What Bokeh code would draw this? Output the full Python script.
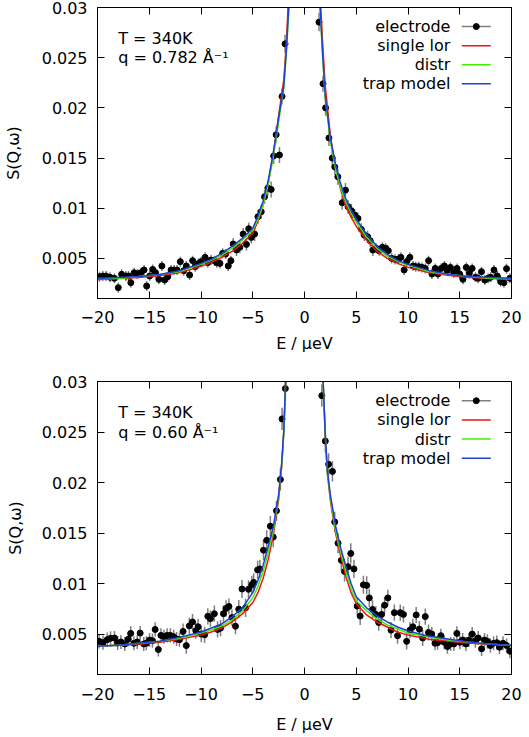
import numpy as np
from bokeh.plotting import figure
from bokeh.models import Range1d, LinearAxis, FixedTicker, Label, ColumnDataSource, CustomJSTickFormatter
from bokeh.layouts import column
from bokeh.embed import file_html
from bokeh.resources import INLINE

FONT = "DejaVu Sans"

# ---------------- data: top panel (q = 0.782 1/A) ----------------
E_top = [-19.81, -19.49, -19.17, -18.79, -18.37, -17.99, -17.67, -17.26, -17.00, -16.78,
         -16.46, -16.14, -15.82, -15.50, -15.25, -14.96, -14.67, -14.39, -14.07, -13.78,
         -13.52, -13.21, -12.89, -12.60, -12.31, -12.00, -11.67, -11.42, -11.10, -10.81,
         -10.56, -10.24, -9.98, -9.60, -9.35, -9.03, -8.71, -8.48, -8.17, -7.91,
         -7.62, -7.37, -7.11, -6.89, -6.57, -6.25, -5.93, -5.61, -5.39, -5.14,
         -4.82, -4.50, -4.18, -3.86, -3.54, -3.22, -2.98, -2.74, -2.42, -2.17, -1.88,
         1.40, 1.79, 2.04, 2.36, 2.68, 2.93, 3.22, 3.64, 3.96, 4.21,
         4.53, 4.85, 5.17, 5.49, 5.77, 6.09, 6.35, 6.60, 6.92, 7.21,
         7.53, 7.85, 8.10, 8.42, 8.74, 9.06, 9.31, 9.63, 9.86, 10.18,
         10.49, 10.75, 11.04, 11.36, 11.67, 11.99, 12.31, 12.63, 12.89, 13.21,
         13.52, 13.78, 14.10, 14.42, 14.74, 14.99, 15.31, 15.63, 15.92, 16.20,
         16.52, 16.78, 17.10, 17.42, 17.74, 17.99, 18.31, 18.63, 18.95, 19.27,
         19.52, 19.84]
S_top = [0.00317, 0.00324, 0.00324, 0.00311, 0.00301, 0.00208, 0.00341, 0.00324, 0.00324, 0.00258,
         0.00357, 0.00344, 0.00357, 0.00384, 0.00224, 0.00324, 0.00390, 0.00357, 0.00291, 0.00424,
         0.00284, 0.00317, 0.00384, 0.00384, 0.00384, 0.00467, 0.00377, 0.00424, 0.00334, 0.00477,
         0.00417, 0.00450, 0.00467, 0.00510, 0.00457, 0.00483, 0.00477, 0.00457, 0.00450, 0.00550,
         0.00543, 0.00424, 0.00477, 0.00643, 0.00583, 0.00610, 0.00742, 0.00639, 0.00795, 0.00709,
         0.00742, 0.00915, 0.00965, 0.01114, 0.01200, 0.01187, 0.01520, 0.01732, 0.01530, 0.02114, 0.02638,
         0.02854, 0.02240, 0.02000, 0.01700, 0.01500, 0.01410, 0.01313, 0.01054, 0.01180, 0.01015,
         0.00975, 0.00932, 0.00898, 0.00789, 0.00732, 0.00716, 0.00676, 0.00583, 0.00600, 0.00576,
         0.00610, 0.00600, 0.00576, 0.00500, 0.00490, 0.00490, 0.00510, 0.00384, 0.00467, 0.00510,
         0.00424, 0.00417, 0.00417, 0.00410, 0.00400, 0.00477, 0.00344, 0.00400, 0.00344, 0.00400,
         0.00424, 0.00377, 0.00410, 0.00357, 0.00400, 0.00344, 0.00291, 0.00410, 0.00350, 0.00400,
         0.00311, 0.00301, 0.00367, 0.00284, 0.00301, 0.00311, 0.00384, 0.00324, 0.00268, 0.00258,
         0.00397, 0.00301]
err_top = [0.0005, 0.0005, 0.0005, 0.0005, 0.0005, 0.0005, 0.0005, 0.0005, 0.0005, 0.0005,
           0.0005, 0.0005, 0.0005, 0.0005, 0.0005, 0.0005, 0.0005, 0.0005, 0.0005, 0.0005,
           0.0005, 0.0005, 0.0005, 0.0005, 0.0005, 0.0005, 0.0005, 0.0005, 0.0005, 0.0005,
           0.0005, 0.0005, 0.0005, 0.0005, 0.0005, 0.0005, 0.0005, 0.0005, 0.0005, 0.0005,
           0.0005, 0.0005, 0.0005, 0.0006, 0.0006, 0.0006, 0.0006, 0.0006, 0.0006, 0.0006,
           0.0007, 0.0007, 0.0007, 0.0007, 0.0007, 0.0008, 0.0008, 0.0008, 0.0008, 0.0008, 0.0009,
           0.0009, 0.0008, 0.0008, 0.0008, 0.0008, 0.0008, 0.0008, 0.0007, 0.0007, 0.0007,
           0.0007, 0.0006, 0.0006, 0.0006, 0.0006, 0.0006, 0.0006, 0.0006, 0.0005, 0.0005,
           0.0005, 0.0005, 0.0005, 0.0005, 0.0005, 0.0005, 0.0005, 0.0005, 0.0005, 0.0005,
           0.0005, 0.0005, 0.0005, 0.0005, 0.0005, 0.0005, 0.0005, 0.0005, 0.0005, 0.0005,
           0.0005, 0.0005, 0.0005, 0.0005, 0.0005, 0.0005, 0.0005, 0.0005, 0.0005, 0.0005,
           0.0005, 0.0005, 0.0005, 0.0005, 0.0005, 0.0005, 0.0005, 0.0005, 0.0005, 0.0005,
           0.0005, 0.0005]

Efit_top = [-20, -18, -16, -14, -12, -10, -9, -8, -7, -6, -5, -4.5, -4, -3.5, -3, -2.5, -2, -1.75, -1.5, -1.3,
            1.3, 1.5, 1.75, 2, 2.5, 3, 3.5, 4, 4.5, 5, 6, 7, 8, 9, 10, 12, 14, 16, 18, 20]
lor_top = [0.0029, 0.0030, 0.0031, 0.0033, 0.0036, 0.0042, 0.0046, 0.0051, 0.0057, 0.0065,
           0.0075, 0.0087, 0.0103, 0.0125, 0.0155, 0.0192, 0.0228, 0.0265, 0.0320, 0.0370,
           0.0370, 0.0315, 0.0265, 0.0222, 0.0172, 0.0140, 0.0118, 0.0102, 0.0091, 0.0082,
           0.0068, 0.0057, 0.0050, 0.0045, 0.0041, 0.0036, 0.0033, 0.0031, 0.0030, 0.0029]
distr_top = [0.0030, 0.0030, 0.0032, 0.0034, 0.0037, 0.0044, 0.0048, 0.0053, 0.0060, 0.0068,
             0.0078, 0.0089, 0.0103, 0.0124, 0.0152, 0.0186, 0.0220, 0.0255, 0.0300, 0.0350,
             0.0350, 0.0300, 0.0252, 0.0210, 0.0166, 0.0139, 0.0120, 0.0106, 0.0095, 0.0086,
             0.0071, 0.0060, 0.0052, 0.0047, 0.0043, 0.0037, 0.0034, 0.0032, 0.0030, 0.0030]
trap_top = [0.0030, 0.0031, 0.0032, 0.0034, 0.0038, 0.0045, 0.0049, 0.0055, 0.0062, 0.0070,
            0.0080, 0.0092, 0.0107, 0.0128, 0.0156, 0.0190, 0.0222, 0.0258, 0.0305, 0.0355,
            0.0360, 0.0302, 0.0255, 0.0212, 0.0170, 0.0143, 0.0124, 0.0109, 0.0098, 0.0089,
            0.0074, 0.0062, 0.0054, 0.0048, 0.0044, 0.0038, 0.0034, 0.0032, 0.0031, 0.0030]

# ---------------- data: bottom panel (q = 0.60 1/A) ----------------
E_bot = [-19.84, -19.47, -19.06, -18.74, -18.36, -18.05, -17.74, -17.36, -17.04, -16.79,
         -16.48, -16.16, -15.88, -15.53, -15.28, -14.97, -14.69, -14.43, -14.12, -13.87,
         -13.58, -13.27, -12.96, -12.64, -12.36, -12.08, -11.73, -11.42, -11.13, -10.82,
         -10.50, -10.28, -9.97, -9.65, -9.34, -9.09, -8.71, -8.40, -8.11, -7.83,
         -7.58, -7.30, -7.01, -6.67, -6.35, -6.04, -5.69, -5.41, -5.09, -4.91,
         -4.53, -4.31, -3.96, -3.65, -3.30, -3.02, -2.71, -2.33, -2.17, -1.85,
         1.67, 2.01, 2.33, 2.70, 2.92, 3.24, 3.56, 3.87, 4.21, 4.47,
         4.78, 5.09, 5.38, 5.69, 6.01, 6.26, 6.57, 6.89, 7.17, 7.45,
         7.74, 8.05, 8.36, 8.68, 8.99, 9.25, 9.56, 9.87, 10.19, 10.47,
         10.79, 11.10, 11.42, 11.67, 11.98, 12.30, 12.61, 12.86, 13.18, 13.49,
         13.81, 14.12, 14.43, 14.72, 15.00, 15.28, 15.60, 15.88, 16.20, 16.51,
         16.79, 17.11, 17.39, 17.67, 17.96, 18.27, 18.58, 18.84, 19.18, 19.53,
         19.84]
S_bot = [0.00428, 0.00415, 0.00445, 0.00458, 0.00461, 0.00412, 0.00422, 0.00402, 0.00448, 0.00507,
         0.00409, 0.00422, 0.00510, 0.00402, 0.00409, 0.00441, 0.00435, 0.00546, 0.00347, 0.00487,
         0.00474, 0.00487, 0.00487, 0.00474, 0.00451, 0.00445, 0.00526, 0.00386, 0.00581, 0.00620,
         0.00533, 0.00572, 0.00500, 0.00493, 0.00676, 0.00653, 0.00702, 0.00546, 0.00559, 0.00702,
         0.00754, 0.00773, 0.00663, 0.00578, 0.00747, 0.00946, 0.00760, 0.00943, 0.00988, 0.01011,
         0.01135, 0.01145, 0.01330, 0.01428, 0.01568, 0.01460, 0.01720, 0.02030, 0.02630, 0.02930,
         0.02860, 0.02410, 0.02180, 0.02110, 0.01610, 0.01400, 0.01230, 0.01120, 0.01167, 0.01298,
         0.01145, 0.00777, 0.00679, 0.00988, 0.00982, 0.00858, 0.00744, 0.00695, 0.00614, 0.00695,
         0.00786, 0.00858, 0.00539, 0.00712, 0.00484, 0.00712, 0.00695, 0.00428, 0.00539, 0.00572,
         0.00689, 0.00549, 0.00461, 0.00673, 0.00516, 0.00500, 0.00409, 0.00415, 0.00484, 0.00419,
         0.00376, 0.00402, 0.00402, 0.00507, 0.00419, 0.00441, 0.00402, 0.00441, 0.00500, 0.00435,
         0.00461, 0.00354, 0.00441, 0.00428, 0.00386, 0.00409, 0.00415, 0.00370, 0.00409, 0.00386,
         0.00331]
err_bot = [0.0007, 0.0007, 0.0007, 0.0007, 0.0007, 0.0007, 0.0007, 0.0007, 0.0007, 0.0007,
           0.0007, 0.0007, 0.0007, 0.0007, 0.0007, 0.0007, 0.0007, 0.0007, 0.0007, 0.0007,
           0.0007, 0.0007, 0.0007, 0.0007, 0.0007, 0.0007, 0.0008, 0.0008, 0.0008, 0.0008,
           0.0008, 0.0008, 0.0008, 0.0008, 0.0008, 0.0008, 0.0008, 0.0008, 0.0008, 0.0008,
           0.0008, 0.0008, 0.0008, 0.0008, 0.0009, 0.0009, 0.0009, 0.0009, 0.0009, 0.0009,
           0.0009, 0.0009, 0.0010, 0.0010, 0.0010, 0.0010, 0.0010, 0.0011, 0.0011, 0.0011,
           0.0011, 0.0011, 0.0011, 0.0010, 0.0010, 0.0010, 0.0010, 0.0010, 0.0010, 0.0010,
           0.0009, 0.0009, 0.0009, 0.0009, 0.0009, 0.0009, 0.0009, 0.0008, 0.0008, 0.0008,
           0.0008, 0.0008, 0.0008, 0.0008, 0.0008, 0.0008, 0.0008, 0.0008, 0.0008, 0.0008,
           0.0008, 0.0008, 0.0008, 0.0008, 0.0008, 0.0007, 0.0007, 0.0007, 0.0007, 0.0007,
           0.0007, 0.0007, 0.0007, 0.0007, 0.0007, 0.0007, 0.0007, 0.0007, 0.0007, 0.0007,
           0.0007, 0.0007, 0.0007, 0.0007, 0.0007, 0.0007, 0.0007, 0.0007, 0.0007, 0.0007,
           0.0007]

Efit_bot = [-20, -18, -16, -14, -12, -10, -9, -8, -7, -6, -5, -4.5, -4, -3.5, -3, -2.5, -2.2, -2, -1.8, -1.6,
            1.6, 1.8, 2, 2.2, 2.5, 3, 3.5, 4, 4.5, 5, 6, 7, 8, 9, 10, 12, 14, 16, 18, 20]
lor_bot = [0.0038, 0.0039, 0.0040, 0.0042, 0.0045, 0.0049, 0.0052, 0.0056, 0.0062, 0.0070,
           0.0081, 0.0091, 0.0105, 0.0124, 0.0149, 0.0183, 0.0216, 0.0250, 0.0305, 0.0360,
           0.0360, 0.0300, 0.0248, 0.0210, 0.0182, 0.0150, 0.0127, 0.0107, 0.0091, 0.0080,
           0.0069, 0.0062, 0.0057, 0.0052, 0.0049, 0.0045, 0.0043, 0.0041, 0.0040, 0.0039]
distr_bot = [0.0038, 0.0039, 0.0041, 0.0043, 0.0046, 0.0051, 0.0054, 0.0058, 0.0064, 0.0073,
             0.0086, 0.0097, 0.0112, 0.0131, 0.0153, 0.0186, 0.0218, 0.0250, 0.0305, 0.0360,
             0.0360, 0.0300, 0.0249, 0.0211, 0.0185, 0.0153, 0.0131, 0.0112, 0.0095, 0.0083,
             0.0073, 0.0065, 0.0059, 0.0055, 0.0051, 0.0047, 0.0044, 0.0042, 0.0040, 0.0039]
trap_bot = [0.0038, 0.0039, 0.0041, 0.0043, 0.0047, 0.0052, 0.0056, 0.0060, 0.0067, 0.0076,
            0.0091, 0.0103, 0.0118, 0.0137, 0.0157, 0.0188, 0.0220, 0.0252, 0.0305, 0.0360,
            0.0360, 0.0300, 0.0250, 0.0213, 0.0188, 0.0157, 0.0135, 0.0117, 0.0100, 0.0087,
            0.0076, 0.0068, 0.0062, 0.0057, 0.0053, 0.0048, 0.0045, 0.0042, 0.0040, 0.0039]

x_ticks = [-20, -15, -10, -5, 0, 5, 10, 15, 20]
y_ticks = [0.005, 0.01, 0.015, 0.02, 0.025, 0.03]
y_tick_labels = ["0.005", "0.01", "0.015", "0.02", "0.025", "0.03"]
legend_labels = ["electrode", "single lor", "distr", "trap model"]
series_colors = ["#7f7f7f", "#f01414", "#44ee00", "#1f3fd8"]

X_RANGE = (-20, 20)
Y_RANGE = (0.001, 0.03)


def style_axis(ax, show_labels):
    ax.major_tick_in = 7
    ax.major_tick_out = 0
    ax.minor_tick_in = 0
    ax.minor_tick_out = 0
    ax.axis_line_color = "black"
    ax.major_tick_line_color = "black"
    ax.major_label_text_font = FONT
    ax.major_label_text_color = "black"
    ax.axis_label_text_font = FONT
    ax.axis_label_text_font_style = "normal"
    ax.axis_label_text_color = "black"
    ax.axis_label_text_font_size = "16px"
    if show_labels:
        ax.major_label_text_font_size = "16px"
    else:
        ax.major_label_text_font_size = "0px"
        ax.major_label_standoff = 0
        ax.formatter = CustomJSTickFormatter(code="return ''")


def make_panel(E, S, err, Ef, lor, distr, trap, line1, line2,
               height, bleft, bright, btop, bbottom, ylab_standoff, xtick_standoff, xlab_standoff):
    p = figure(width=529, height=height, x_range=Range1d(*X_RANGE), y_range=Range1d(*Y_RANGE),
               output_backend="svg", toolbar_location=None,
               min_border_left=bleft, min_border_right=bright, min_border_top=btop, min_border_bottom=bbottom,
               x_axis_label="E / \u00b5eV", y_axis_label="S(Q,\u03c9)")
    p.grid.visible = False
    p.outline_line_color = "black"
    p.background_fill_color = "white"
    p.border_fill_color = "white"

    p.xaxis.ticker = FixedTicker(ticks=x_ticks)
    p.yaxis.ticker = FixedTicker(ticks=y_ticks)
    p.yaxis.major_label_overrides = {t: l for t, l in zip(y_ticks, y_tick_labels)}
    for ax in p.xaxis + p.yaxis:
        style_axis(ax, True)
    p.xaxis.major_label_standoff = xtick_standoff
    p.xaxis.axis_label_standoff = xlab_standoff
    p.yaxis.major_label_standoff = 10
    p.yaxis.axis_label_standoff = ylab_standoff

    top_ax = LinearAxis(ticker=FixedTicker(ticks=x_ticks))
    right_ax = LinearAxis(ticker=FixedTicker(ticks=y_ticks))
    p.add_layout(top_ax, "above")
    p.add_layout(right_ax, "right")
    style_axis(top_ax, False)
    style_axis(right_ax, False)

    E_arr = np.array(E)
    S_arr = np.array(S)
    e_arr = np.array(err)
    src = ColumnDataSource(dict(x=E_arr, y=S_arr, lo=S_arr - e_arr, hi=S_arr + e_arr))
    p.segment(x0="x", y0="lo", x1="x", y1="hi", source=src, line_color=series_colors[0], line_width=1.5)
    p.scatter(x="x", y="y", source=src, size=6, color="black")

    for vals, col in zip([lor, distr, trap], series_colors[1:]):
        p.line(Ef, vals, line_color=col, line_width=1.5)

    # annotation text
    p.add_layout(Label(x=-18.0, y=0.0269, text=line1, text_font=FONT, text_font_size="16px",
                       text_baseline="middle", text_align="left", text_color="black"))
    p.add_layout(Label(x=-18.0, y=0.0250, text=line2, text_font=FONT, text_font_size="16px",
                       text_baseline="middle", text_align="left", text_color="black"))

    # legend (gnuplot style: text right-aligned, sample on the right)
    leg_y = [0.0281, 0.0262, 0.0243, 0.0224]
    for lab, col, ly in zip(legend_labels, series_colors, leg_y):
        p.add_layout(Label(x=14.1, y=ly, text=lab, text_font=FONT, text_font_size="16px",
                           text_baseline="middle", text_align="right", text_color="black"))
        p.line([15.2, 18.0], [ly, ly], line_color=col, line_width=1.5)
    p.scatter([16.6], [leg_y[0]], size=6, color="black")
    return p


p1 = make_panel(E_top, S_top, err_top, Efit_top, lor_top, distr_top, trap_top,
                "T = 340K", "q = 0.782 \u00c5\u207b\u00b9",
                360, 93, 18, 7, 62, 16, 12, 8)
p2 = make_panel(E_bot, S_bot, err_bot, Efit_bot, lor_bot, distr_bot, trap_bot,
                "T = 340K", "q = 0.60 \u00c5\u207b\u00b9",
                377, 91, 14, 21, 63, 14, 13, 12)

layout = column(p1, p2, spacing=0)
open("out.html", "w").write(file_html(layout, INLINE))
